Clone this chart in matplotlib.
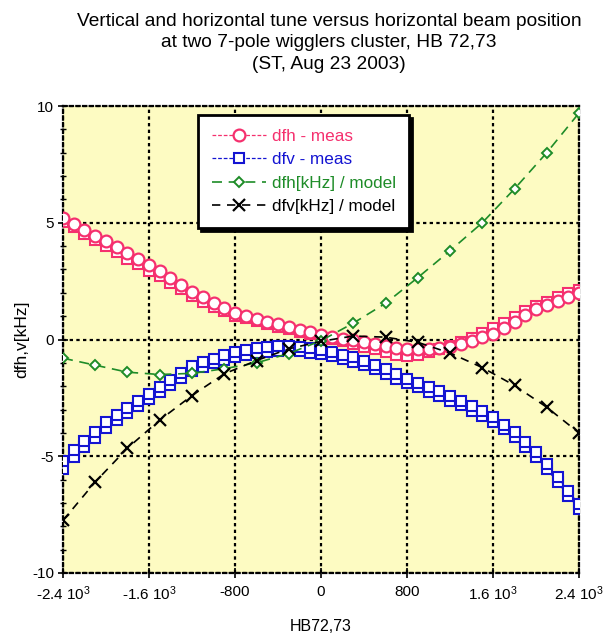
import numpy as np
import matplotlib
matplotlib.use("Agg")
import matplotlib.pyplot as plt

plt.rcParams['font.family'] = ['Liberation Sans', 'DejaVu Sans']
plt.rcParams['mathtext.fontset'] = 'custom'
plt.rcParams['mathtext.rm'] = 'Liberation Sans'
plt.rcParams['mathtext.it'] = 'Liberation Sans'

# Beam position scan (HB72,73), measured tune shifts, two passes each
pos_meas = list(range(-2400, 2401, 100))

dfh_meas_a = [5.20, 4.95, 4.70, 4.45, 4.20, 3.95, 3.70, 3.45, 3.20, 2.92,
              2.63, 2.34, 2.05, 1.80, 1.58, 1.36, 1.15, 1.01, 0.89, 0.77,
              0.65, 0.53, 0.42, 0.30, 0.20, 0.11, 0.03, -0.04, -0.10, -0.20,
              -0.28, -0.35, -0.40, -0.42, -0.40, -0.36, -0.30, -0.18, -0.05, 0.10,
              0.25, 0.50, 0.76, 1.03, 1.30, 1.48, 1.66, 1.84, 2.00]
dfh_meas_b = [5.05, 4.80, 4.50, 4.25, 4.00, 3.75, 3.45, 3.22, 2.95, 2.70,
              2.40, 2.15, 1.85, 1.62, 1.40, 1.20, 1.02, 0.90, 0.78, 0.66,
              0.55, 0.44, 0.33, 0.22, 0.12, 0.02, -0.08, -0.18, -0.30, -0.42,
              -0.55, -0.68, -0.72, -0.65, -0.55, -0.42, -0.28, -0.10, 0.08, 0.28,
              0.48, 0.70, 0.95, 1.20, 1.45, 1.62, 1.80, 2.00, 2.10]

dfv_meas_a = [-5.20, -4.75, -4.35, -3.95, -3.55, -3.25, -2.95, -2.65, -2.35, -2.05,
              -1.75, -1.45, -1.15, -0.98, -0.83, -0.68, -0.55, -0.46, -0.38, -0.32,
              -0.28, -0.28, -0.32, -0.38, -0.45, -0.55, -0.65, -0.77, -0.90, -1.08,
              -1.28, -1.48, -1.68, -1.85, -2.03, -2.22, -2.42, -2.62, -2.85, -3.08,
              -3.32, -3.65, -3.98, -4.40, -4.82, -5.35, -5.90, -6.50, -7.05]
dfv_meas_b = [-5.55, -5.05, -4.60, -4.20, -3.80, -3.45, -3.15, -2.85, -2.55, -2.25,
              -1.95, -1.65, -1.35, -1.18, -1.02, -0.88, -0.75, -0.66, -0.58, -0.52,
              -0.48, -0.47, -0.50, -0.56, -0.63, -0.72, -0.83, -0.95, -1.10, -1.28,
              -1.48, -1.68, -1.88, -2.05, -2.23, -2.42, -2.62, -2.82, -3.05, -3.28,
              -3.52, -3.85, -4.18, -4.60, -5.02, -5.55, -6.10, -6.70, -7.25]

# Model predictions
pos_model = list(range(-2400, 2401, 300))
dfh_model = [-0.80, -1.10, -1.40, -1.50, -1.45, -1.25, -1.00, -0.60, -0.05,
             0.70, 1.55, 2.65, 3.80, 5.00, 6.45, 8.00, 9.70]
dfv_model = [-7.75, -6.10, -4.65, -3.45, -2.40, -1.47, -0.90, -0.40, -0.08,
             0.15, 0.10, -0.12, -0.58, -1.20, -1.97, -2.90, -4.00]

x_ticks = [-2400, -1600, -800, 0, 800, 1600, 2400]
x_ticklabels = ['$\\mathregular{\u20102.4\\ 10^{3}}$', '$\\mathregular{\u20101.6\\ 10^{3}}$',
                '-800', '0', '800',
                '$\\mathregular{1.6\\ 10^{3}}$', '$\\mathregular{2.4\\ 10^{3}}$']
y_ticks = [-10, -5, 0, 5, 10]
y_ticklabels = ['-10', '-5', '0', '5', '10']

PINK = '#f5306e'
BLUE = '#1414d2'
GREEN = '#1e8c28'
BLACK = '#000000'

fig = plt.figure(figsize=(6.06, 6.34), dpi=100)
ax = fig.add_axes([63 / 606, 1 - 573 / 634, 516 / 606, 467 / 634])
ax.set_facecolor('#fdfbc2')

# measured vertical tune (two passes)
ax.plot(pos_meas, dfv_meas_b, color=BLUE, ls=(0, (3, 1.5)), lw=0.9,
        marker='s', ms=7.5, mfc='white', mec=BLUE, mew=1.5, zorder=3)
h_dfv, = ax.plot(pos_meas, dfv_meas_a, color=BLUE, ls=(0, (3, 1.5)), lw=0.9,
                 marker='s', ms=7.5, mfc='white', mec=BLUE, mew=1.5, zorder=3)

# measured horizontal tune (two passes)
ax.plot(pos_meas, dfh_meas_b, color=PINK, ls=(0, (3, 1.5)), lw=0.9,
        marker='s', ms=7.5, mfc='white', mec=PINK, mew=1.5, zorder=4)
h_dfh, = ax.plot(pos_meas, dfh_meas_a, color=PINK, ls=(0, (3, 1.5)), lw=0.9,
                 marker='o', ms=8.5, mfc='white', mec=PINK, mew=1.6, zorder=4)

# model curves
h_mh, = ax.plot(pos_model, dfh_model, color=GREEN, ls=(0, (6, 4)), lw=1.2,
                marker='D', ms=5.5, mfc='white', mec=GREEN, mew=1.4, zorder=5)
h_mv, = ax.plot(pos_model, dfv_model, color=BLACK, ls=(0, (5, 4)), lw=1.2,
                marker='x', ms=9, mec=BLACK, mew=1.6, zorder=5)

ax.set_xlim(-2400, 2400)
ax.set_ylim(-10, 10)
ax.set_xticks(x_ticks)
ax.set_xticklabels(x_ticklabels)
ax.set_yticks(y_ticks)
ax.set_yticklabels(y_ticklabels)
ax.set_yticks(np.arange(-10, 11, 1), minor=True)
ax.tick_params(axis='both', which='major', direction='inout', length=7,
               width=1.2, labelsize=11, colors='black')
ax.tick_params(axis='y', which='minor', direction='inout', length=5, width=1.0)
ax.tick_params(axis='x', which='major', pad=5)
ax.tick_params(axis='y', which='major', pad=3)

ax.grid(True, which='major', color='black', ls=(0, (1.5, 1.5)), lw=1.6, zorder=1)
ax.set_axisbelow(True)
for sp in ax.spines.values():
    sp.set_linestyle((0, (1.5, 1.5)))
    sp.set_linewidth(1.6)
    sp.set_color('black')

ax.set_xlabel('HB72,73', fontsize=11.5, labelpad=11)
ax.set_ylabel('dfh,v[kHz]', fontsize=12.5, labelpad=2)

fig.text(0.543, 0.979,
         'Vertical and horizontal tune versus horizontal beam position\n'
         'at two 7-pole wigglers cluster, HB 72,73\n(ST, Aug 23 2003)',
         ha='center', va='top', fontsize=13.8, linespacing=1.32)

leg = ax.legend([h_dfh, h_dfv, h_mh, h_mv],
                ['dfh - meas', 'dfv - meas', 'dfh[kHz] / model', 'dfv[kHz] / model'],
                loc='upper left', bbox_to_anchor=(0.262, 0.981),
                fontsize=12.3, numpoints=1, handlelength=3.15, handletextpad=0.35,
                labelspacing=0.5, borderpad=0.8, borderaxespad=0.0,
                fancybox=False, framealpha=1, edgecolor='black',
                shadow={'color': 'black', 'alpha': 1})
leg.get_frame().set_linewidth(2.0)
leg.set_zorder(10)
for txt, col in zip(leg.get_texts(), [PINK, BLUE, GREEN, BLACK]):
    txt.set_color(col)

fig.savefig('out.png', dpi=100)
